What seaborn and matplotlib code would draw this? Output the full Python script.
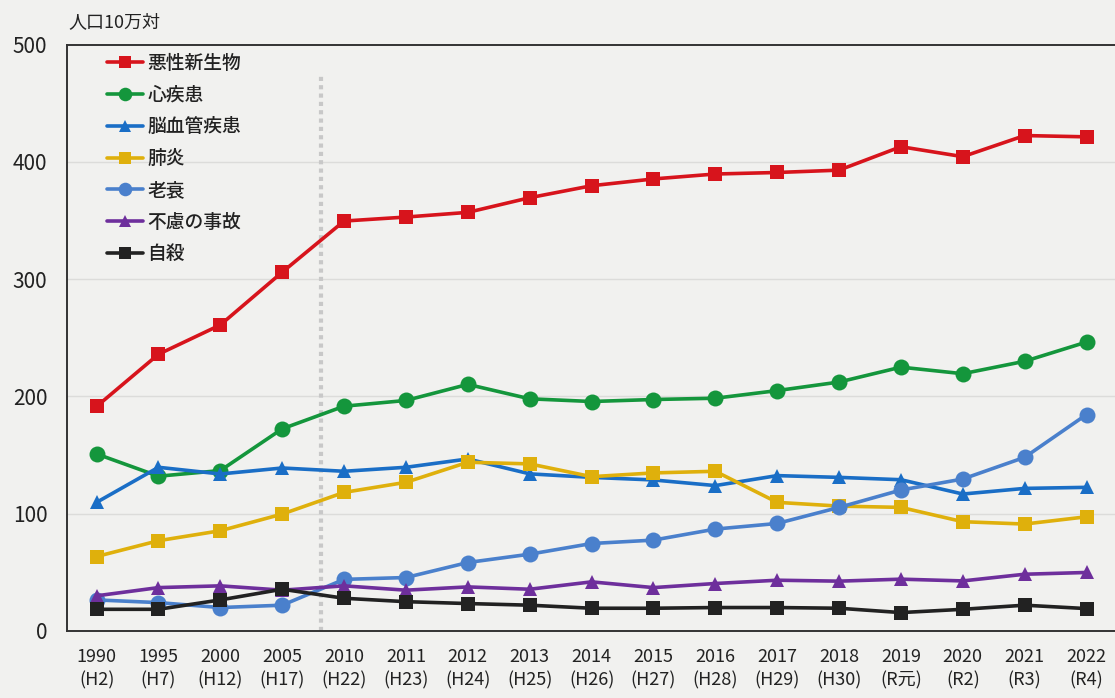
import numpy as np
import pandas as pd
import matplotlib
matplotlib.use("Agg")
import matplotlib.pyplot as plt
import seaborn as sns

years = ["1990", "1995", "2000", "2005", "2010", "2011", "2012", "2013", "2014",
         "2015", "2016", "2017", "2018", "2019", "2020", "2021", "2022"]
eras = ["(H2)", "(H7)", "(H12)", "(H17)", "(H22)", "(H23)", "(H24)", "(H25)", "(H26)",
        "(H27)", "(H28)", "(H29)", "(H30)", "(R元)", "(R2)", "(R3)", "(R4)"]

cancer = [191.5, 236, 261, 306, 349.6, 353, 357, 369.5, 379.7, 385.5, 389.7, 391, 393, 413, 404.5, 422.5, 421.4]
heart = [151, 132, 136.8, 172.4, 191.7, 196.6, 210.3, 198, 195.7, 197.4, 198.5, 205, 212.3, 225, 219.4, 230, 246.4]
stroke = [109.7, 139.6, 133.9, 139, 136.2, 139.6, 146.7, 134, 131, 128.8, 124, 132.5, 131, 129, 116.8, 121.6, 122.5]
pneumonia = [63.5, 77, 85.5, 99.7, 118.2, 126.8, 143.9, 142.5, 131.6, 134.8, 136.2, 109.7, 106.5, 105.4, 93.2, 91.2, 97.4]
senility = [26.5, 24.2, 20, 22, 44, 45.6, 58.4, 65.5, 74.6, 77.5, 86.9, 91.7, 105.4, 120.2, 129.6, 148.1, 184.6]
accident = [30, 37, 38.5, 34.8, 38.5, 34.8, 37.6, 35.6, 41.9, 37, 40.5, 43.3, 42.5, 44.2, 42.7, 48.4, 49.9]
suicide = [18.5, 18.5, 26.5, 35.6, 27.9, 25, 23.4, 22, 19.4, 19.4, 20, 20, 19.4, 15.7, 18.5, 22, 19.1]

series_names = ["悪性新生物", "心疾患", "脳血管疾患", "肺炎", "老衰", "不慮の事故", "自殺"]
series_values = [cancer, heart, stroke, pneumonia, senility, accident, suicide]
colors = ["#d7141c", "#14963c", "#1a6ec6", "#dfb00c", "#4a80cc", "#6e2f9c", "#222222"]
markers = ["s", "o", "^", "s", "o", "^", "s"]
msizes = [10, 11.5, 10.5, 10, 11.5, 10.5, 10]

rows = []
for name, vals in zip(series_names, series_values):
    for i, v in enumerate(vals):
        rows.append({"idx": i, "value": v, "cause": name})
df = pd.DataFrame(rows)

sns.set_theme(style="white")
plt.rcParams["font.family"] = ["Noto Sans CJK JP", "DejaVu Sans"]

bg = "#f1f1ef"
fig = plt.figure(figsize=(11.15, 6.98), dpi=100, facecolor=bg)
ax = fig.add_axes([0.06, 0.096, 0.94, 0.84])
ax.set_facecolor(bg)

for y in [100, 200, 300, 400]:
    ax.axhline(y, color="#dcdcda", lw=1.0, zorder=0)
ax.axvline(3.63, ymax=0.95, color="#c8c8c8", lw=3.0, ls=(0, (1, 1)), zorder=0.5)

for name, c, m, ms in zip(series_names, colors, markers, msizes):
    sub = df[df["cause"] == name]
    sns.lineplot(data=sub, x="idx", y="value", ax=ax, color=c, marker=m,
                 markersize=ms, markeredgewidth=0, linewidth=2.6, label=name,
                 zorder=3)

ax.set_xlim(-0.48, 16.46)
ax.set_ylim(0, 500)
ax.set_xticks(range(len(years)))
ax.set_xticklabels([f"{y}\n{e}" for y, e in zip(years, eras)], fontsize=13,
                   linespacing=1.4)
ax.set_yticks([0, 100, 200, 300, 400, 500])
ax.set_yticklabels(["0", "100", "200", "300", "400", "500"], fontsize=15)
ax.tick_params(axis="both", length=0, colors="#222222")
ax.tick_params(axis="x", pad=12)
ax.tick_params(axis="y", pad=14)
ax.set_xlabel("")
ax.set_ylabel("")
for s in ["left", "top", "bottom"]:
    ax.spines[s].set_color("#333333")
    ax.spines[s].set_linewidth(1.4)
ax.spines["right"].set_visible(False)

fig.text(0.061, 0.968, "人口10万対", fontsize=13, color="#222222", va="center")

leg = ax.legend(loc="upper left", bbox_to_anchor=(0.022, 1.013), frameon=False,
                fontsize=13.5, handlelength=1.95, handletextpad=0.2,
                labelspacing=0.68, markerscale=0.85)
for t in leg.get_texts():
    t.set_color("#222222")
    t.set_fontweight("medium")

fig.savefig("out.png", dpi=100, facecolor=bg)
